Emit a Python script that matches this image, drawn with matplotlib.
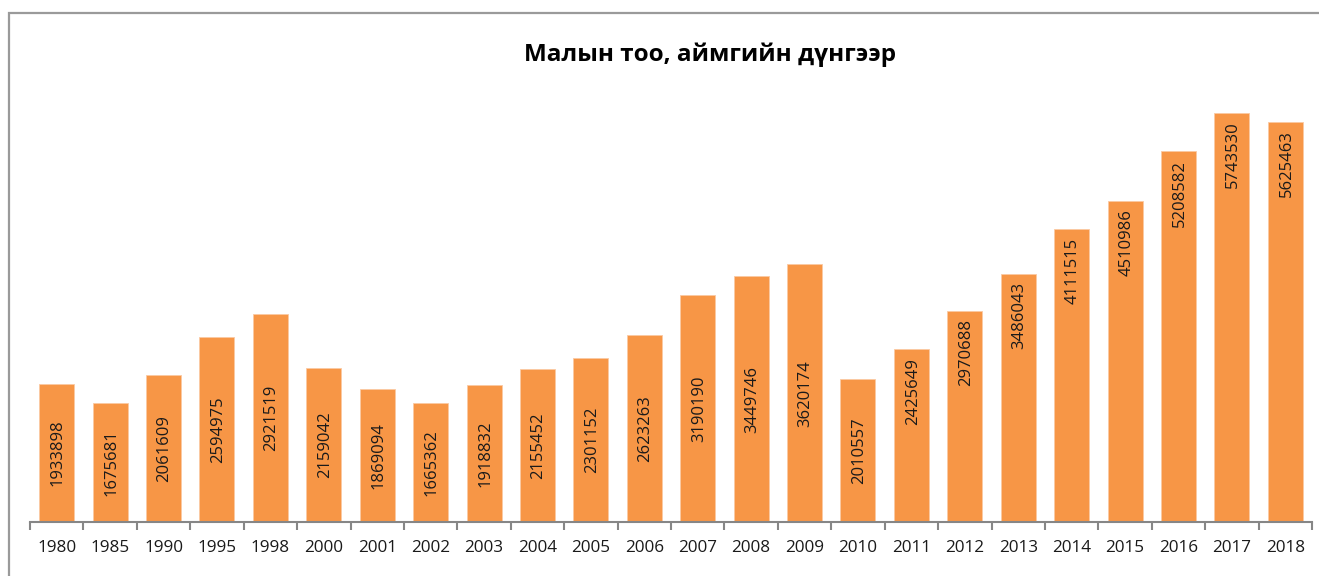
import matplotlib
matplotlib.use("Agg")
import matplotlib.pyplot as plt
from matplotlib.patches import Rectangle

years = ["1980", "1985", "1990", "1995", "1998", "2000", "2001", "2002", "2003", "2004",
         "2005", "2006", "2007", "2008", "2009", "2010", "2011", "2012", "2013", "2014",
         "2015", "2016", "2017", "2018"]
livestock = [1933898, 1675681, 2061609, 2594975, 2921519, 2159042, 1869094, 1665362,
             1918832, 2155452, 2301152, 2623263, 3190190, 3449746, 3620174, 2010557,
             2425649, 2970688, 3486043, 4111515, 4510986, 5208582, 5743530, 5625463]
title = "Малын тоо, аймгийн дүнгээр"

W, H = 1319, 576
fig = plt.figure(figsize=(W / 100, H / 100), dpi=100)
fam = ["Open Sans", "DejaVu Sans"]

# outer chart border (extends past the right/bottom edge as in the reference)
fig.patches.append(Rectangle((8.7 / W, -0.2), 2.0, 1.2 - 13.3 / H,
                             transform=fig.transFigure, fill=False,
                             edgecolor="#9a9a9a", linewidth=1.6))

ax = fig.add_axes([30 / W, (H - 522) / H, (1312 - 30) / W, (522 - 95) / H])
x = list(range(len(years)))
bars = ax.bar(x, livestock, width=0.655, color="#F79646", edgecolor="#FBC9A3", linewidth=0.6)

ax.set_xlim(-0.5, len(years) - 0.5)
ax.set_ylim(0, 6000000)
ax.set_yticks([])
for s in ("left", "right", "top"):
    ax.spines[s].set_visible(False)
ax.spines["bottom"].set_color("#868686")
ax.spines["bottom"].set_linewidth(1.5)

ax.set_xticks([i - 0.5 for i in range(len(years) + 1)], minor=False)
ax.set_xticklabels([])
ax.tick_params(axis="x", which="major", length=6, width=1.5, color="#868686", direction="out")
ax.set_xticks(x, minor=True)
ax.set_xticklabels(years, minor=True, fontsize=12.3, family=fam, color="#1a1a1a")
ax.tick_params(axis="x", which="minor", length=0, pad=13)

for i, (b, v) in enumerate(zip(bars, livestock)):
    cx = b.get_x() + b.get_width() / 2
    if int(years[i]) >= 2011:
        ax.annotate(str(v), (cx, v), xytext=(1, -6), textcoords="offset points",
                    rotation=90, ha="center", va="top", fontsize=12,
                    family=fam, color="#1a1a1a")
    else:
        ax.text(cx + 0.02, v / 2, str(v), rotation=90, ha="center", va="center",
                fontsize=12, family=fam, color="#1a1a1a")

fig.text(710 / W, 1 - 55 / H, title, ha="center", va="center", fontsize=17.5,
         fontweight="bold", family=fam, color="#000000")

fig.savefig("out.png", dpi=100)
